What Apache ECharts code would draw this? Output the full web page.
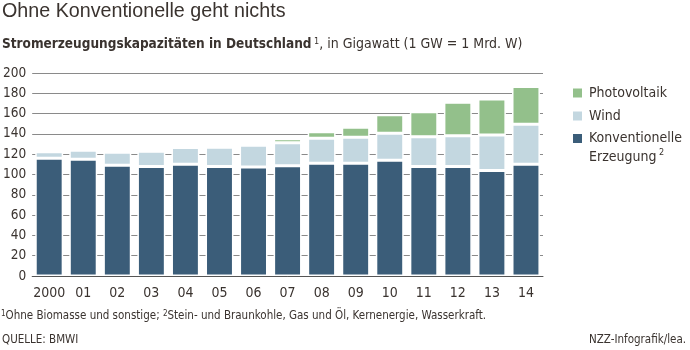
<!DOCTYPE html>
<html>
<head>
<meta charset="utf-8">
<script src="https://cdn.jsdelivr.net/npm/echarts@6/dist/echarts.min.js"></script>
<style>
html,body{margin:0;padding:0;background:#fff;}
#chart{width:690px;height:350px;}
</style>
</head>
<body>
<div id="chart"></div>
<script>
const categories = ['2000','01','02','03','04','05','06','07','08','09','10','11','12','13','14'];
const conventional = [116, 115, 109, 108, 110, 108, 107.5, 108.5, 111, 111, 114, 108, 108, 104, 110];
const wind = [6.5, 9, 13, 14.8, 16.5, 18.8, 21.4, 22.7, 24.7, 25.7, 26.7, 29.3, 30.2, 34.9, 39.5];
const photovoltaic = [0.1, 0.2, 0.3, 0.4, 1.1, 2.0, 2.3, 4.0, 6.3, 9.9, 18.1, 24.6, 32.9, 35.5, 37.1];
const yTicks = [0, 20, 40, 60, 80, 100, 120, 140, 160, 180, 200];

const FONT = "'DejaVu Sans Condensed', 'Liberation Sans Narrow', 'Liberation Sans', sans-serif";
const TFONT = "'Liberation Sans', Arial, sans-serif";
const TXT = '#3a332f';
const C_CONV = '#3b5d79';
const C_WIND = '#c3d7e0';
const C_PV = '#93c08b';

const chart = echarts.init(document.getElementById('chart'), null, {renderer: 'canvas'});
chart.setOption({
  backgroundColor: '#fff',
  animation: false,
  textStyle: {fontFamily: FONT, color: TXT},
  title: [
    {text: 'Ohne Konventionelle geht nichts', left: 2, top: 2, padding: 0,
     textStyle: {fontFamily: TFONT, fontSize: 19.7, fontWeight: 'normal', color: TXT}},
    {text: '{b|Stromerzeugungskapazitäten in Deutschland}{s| 1}{r|, in Gigawatt (1 GW = 1 Mrd. W)}',
     left: 2, top: 37, padding: 0,
     textStyle: {fontFamily: FONT, fontSize: 14, fontWeight: 'normal', color: TXT,
       rich: {
         b: {fontFamily: FONT, fontSize: 13.5, fontWeight: 'bold', color: TXT},
         s: {fontFamily: FONT, fontSize: 9, fontWeight: 'normal', color: TXT, verticalAlign: 'top'},
         r: {fontFamily: FONT, fontSize: 14, fontWeight: 'normal', color: TXT}
       }}},
    {text: '{s|1}{n|Ohne Biomasse und sonstige; }{s|2}{n|Stein- und Braunkohle, Gas und Öl, Kernenergie, Wasserkraft.}',
     left: 1, top: 310, padding: 0,
     textStyle: {fontFamily: FONT, fontSize: 11.5, fontWeight: 'normal', color: TXT,
       rich: {
         s: {fontFamily: FONT, fontSize: 8, fontWeight: 'normal', color: TXT, verticalAlign: 'top'},
         n: {fontFamily: FONT, fontSize: 11.5, fontWeight: 'normal', color: TXT}
       }}},
    {text: 'QUELLE: BMWI', left: 2, top: 334, padding: 0,
     textStyle: {fontFamily: FONT, fontSize: 11.5, fontWeight: 'normal', color: TXT}},
    {text: 'NZZ-Infografik/lea.', right: 4, top: 334, padding: 0,
     textStyle: {fontFamily: FONT, fontSize: 11.5, fontWeight: 'normal', color: TXT}}
  ],
  legend: [
    {orient: 'vertical', left: 566, top: 80, itemWidth: 11, itemHeight: 11, itemGap: 7,
     icon: 'rect', selectedMode: false,
     data: ['Photovoltaik', 'Wind'],
     textStyle: {fontFamily: FONT, fontSize: 14, color: TXT, lineHeight: 16, padding: [0,0,0,1]}},
    {orient: 'vertical', left: 566, top: 105, itemWidth: 11, itemHeight: 11,
     icon: 'rect', selectedMode: false,
     data: [{name: 'Konventionelle', textStyle: {padding: [19, 0, 0, 1]}}],
     formatter: function () { return '{n|Konventionelle}\n{n|Erzeugung}{s| 2}'; },
     textStyle: {fontFamily: FONT, fontSize: 14, color: TXT, lineHeight: 19,
       rich: {
         n: {fontFamily: FONT, fontSize: 14, color: TXT, lineHeight: 19},
         s: {fontFamily: FONT, fontSize: 9, color: TXT, verticalAlign: 'top', lineHeight: 19}
       }}}
  ],
  grid: {left: 32, right: 147, top: 73, bottom: 74, containLabel: false},
  xAxis: {
    type: 'category', data: categories,
    axisLine: {show: true, lineStyle: {color: '#555', width: 1}},
    axisTick: {show: false},
    axisLabel: {fontFamily: FONT, fontSize: 14, color: TXT, margin: 10, interval: 0}
  },
  yAxis: {
    type: 'value', min: yTicks[0], max: yTicks[yTicks.length - 1], interval: yTicks[1] - yTicks[0],
    axisLine: {show: false}, axisTick: {show: false},
    axisLabel: {fontFamily: FONT, fontSize: 13.5, color: TXT, margin: 6},
    splitLine: {show: true, lineStyle: {color: '#8a8a8a', width: 1}}
  },
  series: [
    {name: 'Konventionelle', type: 'bar', stack: 'cap', data: conventional, barCategoryGap: '18%',
     itemStyle: {color: C_CONV, borderColor: '#fff', borderWidth: 1.5}},
    {name: 'Wind', type: 'bar', stack: 'cap', data: wind,
     itemStyle: {color: C_WIND, borderColor: '#fff', borderWidth: 1.5}},
    {name: 'Photovoltaik', type: 'bar', stack: 'cap', data: photovoltaic,
     itemStyle: {color: C_PV, borderColor: '#fff', borderWidth: 1.5}}
  ]
});
</script>
</body>
</html>
